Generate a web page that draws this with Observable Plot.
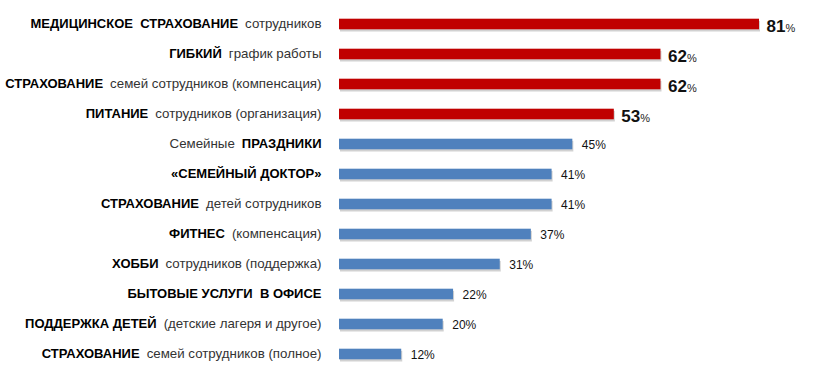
<!DOCTYPE html>
<html>
<head>
<meta charset="utf-8">
<script src="https://cdn.jsdelivr.net/npm/d3@7"></script>
<script src="https://cdn.jsdelivr.net/npm/@observablehq/plot@0.6"></script>
<style>
  html, body { margin: 0; padding: 0; background: #fff; }
  svg { display: block; }
</style>
</head>
<body>
<div id="chart"></div>
<script>
// Categories (bold parts marked with **)
const labels = [
  "**МЕДИЦИНСКОЕ  СТРАХОВАНИЕ** сотрудников",
  "**ГИБКИЙ** график работы",
  "**СТРАХОВАНИЕ** семей сотрудников (компенсация)",
  "**ПИТАНИЕ** сотрудников (организация)",
  "Семейные **ПРАЗДНИКИ**",
  "**«СЕМЕЙНЫЙ ДОКТОР»**",
  "**СТРАХОВАНИЕ** детей сотрудников",
  "**ФИТНЕС** (компенсация)",
  "**ХОББИ** сотрудников (поддержка)",
  "**БЫТОВЫЕ УСЛУГИ  В ОФИСЕ**",
  "**ПОДДЕРЖКА ДЕТЕЙ** (детские лагеря и другое)",
  "**СТРАХОВАНИЕ** семей сотрудников (полное)"
];
const values = [81, 62, 62, 53, 45, 41, 41, 37, 31, 22, 20, 12];
const groups = ["top", "top", "top", "top", "other", "other", "other", "other", "other", "other", "other", "other"];

const plain = s => s.replace(/\*\*/g, "");
const parts = s => s.split(/(\*\*[^*]+\*\*)/).map(p => p.trim()).filter(p => p.length).map(p =>
  p.startsWith("**") ? {text: p.slice(2, -2), bold: true} : {text: p, bold: false});

const data = labels.map((l, i) => ({label: plain(l), raw: l, value: values[i], group: groups[i]}));

const plot = Plot.plot({
  width: 837,
  height: 373,
  margin: 0,
  style: {fontFamily: "'Liberation Sans', Arial, sans-serif", background: "#fff"},
  x: {domain: [0, 81], range: [339, 759], axis: null},
  y: {domain: data.map(d => d.label), range: [6.8, 372.2], padding: 0, axis: null},
  color: {domain: ["top", "other"], range: ["#C00000", "#4F81BD"]},
  marks: [
    Plot.barX(data, {x: "value", y: "label", fill: "#9a9a9a", fillOpacity: 0.45, insetTop: 9.9, insetBottom: 9.5, dx: 1, dy: 2}),
    Plot.barX(data, {x: "value", y: "label", fill: "group", insetTop: 9.7, insetBottom: 9.7}),
    Plot.text(data, {x: 0, y: "label", text: "label", textAnchor: "end", dx: -18, fill: "#111", fontSize: 13}),
    Plot.text(data, {x: "value", y: "label", text: d => d.value + "%", textAnchor: "start", dx: 7, fill: "#111", fontSize: 12})
  ]
});

function resetY(t) {
  const y = t.attr("y");
  if (y && /em$/.test(y)) t.attr("y", null);
}

const svg = d3.select(plot);
const textGroups = svg.selectAll('g[aria-label="text"]').nodes();
// Category labels: mixed bold / regular
d3.select(textGroups[0]).selectAll("text").each(function(i) {
  const t = d3.select(this);
  resetY(t);
  t.text(null).attr("dy", "3.1").style("white-space", "pre");
  parts(data[i].raw).forEach((p, k) => {
    const s = t.append("tspan").text(p.text)
      .attr("font-weight", p.bold ? "bold" : "normal")
      .attr("font-size", p.bold ? 13 : 13.3)
      .attr("fill", p.bold ? "#000" : "#333");
    if (k > 0) s.attr("dx", 7);
  });
});
// Value labels
d3.select(textGroups[1]).selectAll("text").each(function(i) {
  const t = d3.select(this);
  const d = data[i];
  resetY(t);
  t.text(null);
  if (d.group === "top") {
    t.attr("dy", "7.8");
    t.append("tspan").text(String(d.value)).attr("font-weight", "bold").attr("font-size", 17).attr("fill", "#111");
    t.append("tspan").text("%").attr("font-size", 11).attr("fill", "#222");
  } else {
    t.attr("dy", "4.7").attr("dx", "2");
    t.append("tspan").text(d.value + "%").attr("font-size", 12).attr("fill", "#111");
  }
});

document.getElementById("chart").appendChild(plot);
</script>
</body>
</html>
